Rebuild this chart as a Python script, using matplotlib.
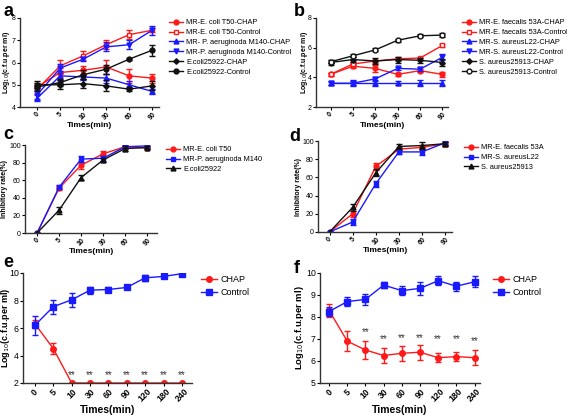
import numpy as np
import matplotlib
matplotlib.use('Agg')
import matplotlib.pyplot as plt

plt.rcParams['font.family'] = ['Liberation Sans', 'DejaVu Sans']

# data
times_short = ['0', '5', '10', '30', '60', '90']
times_long = ['0', '5', '10', '30', '60', '90', '120', '180', '240']

a_names = ['MR-E. coli T50-CHAP', 'MR-E. coli T50-Control', 'MR- P. aeruginoda M140-CHAP',
           'MR-P. aeruginoda M140-Control', 'E.coli25922-CHAP', 'E.coli25922-Control']
a_vals = [[4.9, 5.55, 5.65, 5.8, 5.4, 5.3],
          [4.8, 5.85, 6.3, 6.8, 7.25, 7.45],
          [4.4, 5.4, 5.35, 5.3, 5.0, 4.7],
          [4.55, 5.75, 6.15, 6.7, 6.8, 7.45],
          [5.0, 5.0, 5.05, 4.95, 4.8, 4.95],
          [4.9, 5.1, 5.45, 5.7, 6.15, 6.55]]
a_errs = [[0.2, 0.2, 0.2, 0.3, 0.3, 0.2],
          [0.2, 0.25, 0.2, 0.2, 0.2, 0.1],
          [0.15, 0.2, 0.15, 0.2, 0.15, 0.1],
          [0.2, 0.2, 0.1, 0.2, 0.2, 0.2],
          [0.15, 0.2, 0.2, 0.25, 0.1, 0.2],
          [0.2, 0.15, 0.2, 0.2, 0.05, 0.25]]

b_names = ['MR-E. faecalis 53A-CHAP', 'MR-E. faecalis 53A-Control', 'MR-S. aureusL22-CHAP',
           'MR-S. aureusL22-Control', 'S. aureus25913-CHAP', 'S. aureus25913-Control']
b_vals = [[4.2, 4.75, 4.6, 4.2, 4.45, 4.2],
          [4.2, 4.9, 5.1, 5.25, 5.3, 6.15],
          [3.6, 3.6, 3.6, 3.6, 3.6, 3.6],
          [3.6, 3.6, 3.9, 4.6, 4.55, 5.35],
          [5.0, 5.2, 5.1, 5.2, 5.15, 5.0],
          [5.05, 5.45, 5.85, 6.5, 6.8, 6.85]]
b_errs = [[0.1, 0.15, 0.25, 0.1, 0.1, 0.15],
          [0.1, 0.1, 0.1, 0.1, 0.1, 0.1],
          [0.15, 0.2, 0.2, 0.15, 0.2, 0.2],
          [0.1, 0.15, 0.15, 0.1, 0.15, 0.2],
          [0.15, 0.15, 0.2, 0.2, 0.15, 0.25],
          [0.1, 0.1, 0.1, 0.1, 0.1, 0.15]]

c_names = ['MR-E. coli T50', 'MR-P. aeruginoda M140', 'E.coli25922']
c_vals = [[0, 51, 77, 90, 98, 97],
          [0, 52, 84, 85, 98, 99],
          [0, 26, 63, 83, 96, 97]]
c_errs = [[0, 2, 4, 3, 2, 2],
          [0, 2, 3, 3, 2, 2],
          [0, 4, 3, 2, 3, 2]]

d_names = ['MR-E. faecalis 53A', 'MR-S. aureusL22', 'S. aureus25913']
d_vals = [[0, 20, 72, 91, 93, 97],
          [0, 11, 53, 88, 88, 98],
          [0, 27, 65, 94, 95, 97]]
d_errs = [[0, 3, 4, 2, 3, 2],
          [0, 3, 3, 2, 3, 2],
          [0, 4, 4, 3, 4, 2]]

e_chap = [6.3, 4.5, 2, 2, 2, 2, 2, 2, 2]
e_chap_err = [0.3, 0.4, 0, 0, 0, 0, 0, 0, 0]
e_ctrl = [6.2, 7.55, 8.05, 8.75, 8.8, 8.95, 9.65, 9.75, 9.95]
e_ctrl_err = [0.7, 0.5, 0.5, 0.25, 0.2, 0.05, 0.2, 0.1, 0.05]
e_star_y = [None, None, 2.6, 2.55, 2.6, 2.6, 2.6, 2.55, 2.55]

f_chap = [8.3, 6.9, 6.5, 6.25, 6.35, 6.4, 6.15, 6.2, 6.15]
f_chap_err = [0.3, 0.45, 0.42, 0.35, 0.35, 0.35, 0.2, 0.2, 0.35]
f_ctrl = [8.25, 8.7, 8.8, 9.45, 9.2, 9.3, 9.65, 9.4, 9.6]
f_ctrl_err = [0.2, 0.2, 0.25, 0.15, 0.2, 0.3, 0.2, 0.2, 0.25]
f_star_y = [None, None, 7.3, 7.0, 7.05, 7.05, 7.0, 7.0, 6.9]

RED = '#ff1a1a'
BLUE = '#1a1aff'
BLK = '#111111'

W, H = 567, 417
fig = plt.figure(figsize=(5.67, 4.17), dpi=100)


def add_ax(x0, y0, x1, y1):
    # pixel box (left, top, right, bottom) -> figure fraction
    return fig.add_axes([x0 / W, 1 - y1 / H, (x1 - x0) / W, (y1 - y0) / H])


def style_ax(ax, ticks, labels, xlim, ylim, yticks, fs=5, xfs=6):
    for s in ['top', 'right']:
        ax.spines[s].set_visible(False)
    for s in ['left', 'bottom']:
        ax.spines[s].set_linewidth(1.0)
        ax.spines[s].set_color('#333333')
    ax.set_xticks(ticks)
    ax.set_xticklabels(labels, rotation=45, fontsize=fs, fontweight='bold')
    ax.set_xlim(*xlim)
    ax.set_ylim(*ylim)
    ax.set_yticks(yticks)
    ax.tick_params(axis='y', labelsize=fs, length=2, width=0.8, pad=1)
    ax.tick_params(axis='x', length=2, width=0.8, pad=1)
    ax.set_xlabel('Times(min)', fontsize=xfs, fontweight='bold', labelpad=0.5)


def ylab(ax, text, fs, xpix):
    # place y label centre at a given figure pixel column
    ax.set_ylabel(text, fontsize=fs, fontweight='bold', va='center')
    bb = ax.get_position()
    x_ax = (xpix / W - bb.x0) / bb.width
    ax.yaxis.set_label_coords(x_ax, 0.5)


def draw(ax, x, y, e, color, marker, label, mfc=None, ms=3.5):
    ax.errorbar(x, y, yerr=e, fmt='none', ecolor=color,
                capsize=2, elinewidth=1.0, capthick=1.0)
    ax.plot(x, y, color=color, marker=marker, ms=ms, lw=1.0,
            mfc=mfc if mfc else color, mec=color, mew=1.0, label=label)


def leg(ax, xpix, ypix, fs=5.3, hl=1.9, sp=0.38):
    ax.legend(loc='upper left', bbox_to_anchor=(xpix / W, 1 - ypix / H),
              bbox_transform=fig.transFigure, frameon=False, fontsize=fs,
              handlelength=hl, labelspacing=sp, handletextpad=0.4,
              borderaxespad=0, borderpad=0)


# panel a
xs = np.arange(len(times_short))
ax = add_ax(20, 18, 159, 107)
styles_a = [(RED, 'o', None), (RED, 's', 'white'), (BLUE, '^', None),
            (BLUE, 'v', None), (BLK, 'D', None), (BLK, 'o', None)]
for name, v, e, (c, m, f) in zip(a_names, a_vals, a_errs, styles_a):
    draw(ax, xs, v, e, c, m, name, f, ms=2.8 if m == 'D' else 3.5)
style_ax(ax, xs, times_short, (-0.75, 5.3), (4, 8), [4, 5, 6, 7, 8])
ylab(ax, 'Log$_{10}$(c.f.u.per ml)', 5, 7)
leg(ax, 169, 19)

# panel b
ax = add_ax(316, 18, 448, 107)
styles_b = [(RED, 'o', None), (RED, 's', 'white'), (BLUE, '^', None),
            (BLUE, 'v', None), (BLK, 'D', None), (BLK, 'o', 'white')]
for name, v, e, (c, m, f) in zip(b_names, b_vals, b_errs, styles_b):
    draw(ax, xs, v, e, c, m, name, f, ms=2.8 if m == 'D' else 3.5)
style_ax(ax, xs, times_short, (-0.65, 5.25), (2, 8), [2, 4, 6, 8])
ylab(ax, 'Log$_{10}$(c.f.u.per ml)', 5, 304)
leg(ax, 462, 19)

# panel c
ax = add_ax(25, 145, 157, 233)
styles_c = [(RED, 'o'), (BLUE, 's'), (BLK, '^')]
for name, v, e, (c, m) in zip(c_names, c_vals, c_errs, styles_c):
    draw(ax, xs, v, e, c, m, name)
style_ax(ax, xs, times_short, (-0.55, 5.45), (0, 100), [0, 20, 40, 60, 80, 100])
ylab(ax, 'Inhibitory rate(%)', 5, 5)
leg(ax, 166, 146)

# panel d
ax = add_ax(318, 141, 452, 232)
for name, v, e, (c, m) in zip(d_names, d_vals, d_errs, styles_c):
    draw(ax, xs, v, e, c, m, name)
style_ax(ax, xs, times_short, (-0.5, 5.3), (0, 100), [0, 20, 40, 60, 80, 100])
ylab(ax, 'Inhibitory rate(%)', 5, 298)
leg(ax, 464, 144)

# panel e
xl = np.arange(len(times_long))
ax = add_ax(23, 273, 192, 383)
draw(ax, xl, e_chap, e_chap_err, RED, 'o', 'CHAP', ms=4)
draw(ax, xl, e_ctrl, e_ctrl_err, BLUE, 's', 'Control', ms=4)
for xi, sy in zip(xl, e_star_y):
    if sy is not None:
        ax.text(xi, sy, '**', ha='center', va='center', fontsize=7, color='#333333')
style_ax(ax, xl, times_long, (-0.65, 8.55), (2, 10), [2, 4, 6, 8, 10], fs=6.3, xfs=7.5)
ylab(ax, 'Log$_{10}$(c.f.u.per ml)', 6.5, 6)
leg(ax, 201, 275, fs=6.5, hl=1.8, sp=0.45)

# panel f
ax = add_ax(320, 273, 480, 383)
draw(ax, xl, f_chap, f_chap_err, RED, 'o', 'CHAP', ms=4)
draw(ax, xl, f_ctrl, f_ctrl_err, BLUE, 's', 'Control', ms=4)
for xi, sy in zip(xl, f_star_y):
    if sy is not None:
        ax.text(xi, sy, '**', ha='center', va='center', fontsize=7, color='#333333')
style_ax(ax, xl, times_long, (-0.5, 8.3), (5, 10), [5, 6, 7, 8, 9, 10], fs=6.3, xfs=7.5)
ylab(ax, 'Log$_{10}$(c.f.u.per ml)', 6.8, 299)
leg(ax, 493, 275, fs=6.5, hl=1.8, sp=0.45)

# panel letters
for lbl, x, y in [('a', 3, 3), ('b', 294, 3), ('c', 3, 126),
                  ('d', 289, 128), ('e', 3, 254), ('f', 294, 260)]:
    fig.text(x / W, 1 - y / H, lbl, fontsize=13, fontweight='bold', va='top', ha='left')

fig.savefig('out.png', dpi=100)
